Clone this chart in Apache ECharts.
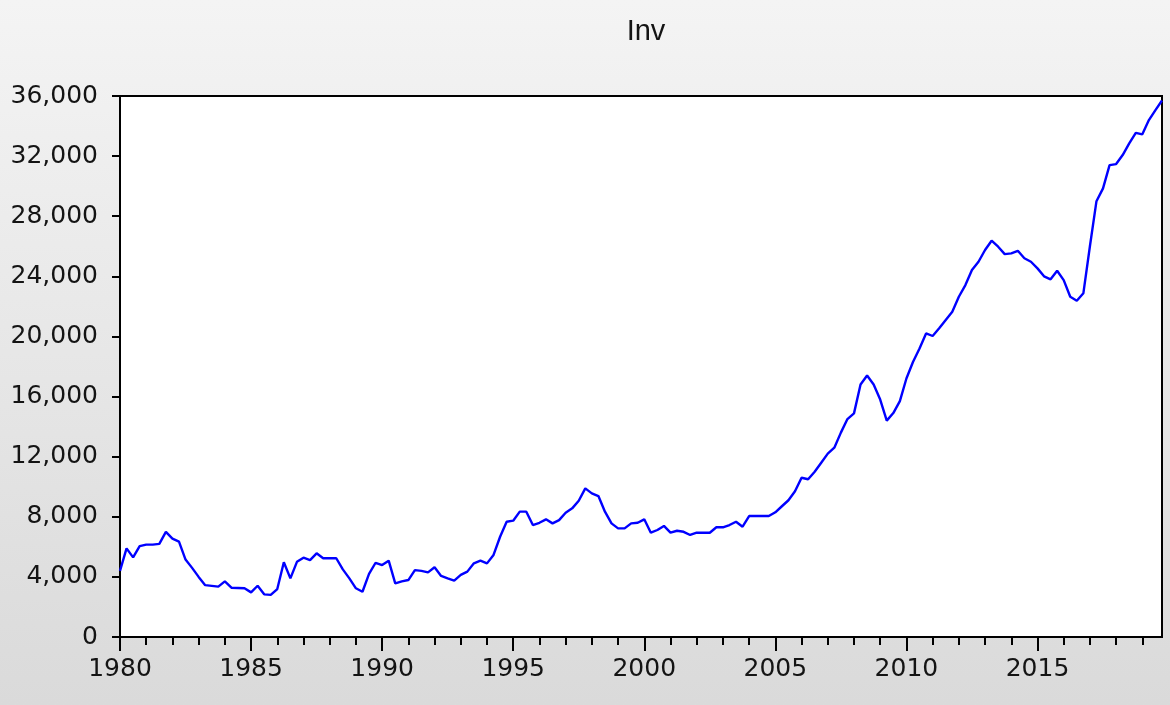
<!DOCTYPE html>
<html>
<head>
<meta charset="utf-8">
<script src="https://cdn.jsdelivr.net/npm/echarts@6/dist/echarts.min.js"></script>
<style>
  html, body { margin: 0; padding: 0; }
  #chart { width: 1170px; height: 705px; }
</style>
</head>
<body>
<div id="chart"></div>
<script>
// quarterly, 1980Q1 .. 2019Q4
var firstYear = 1980;
var lastYear = 2019;

var inv = [
    4400, 5900, 5300, 6050,      // 1980
    6150, 6150, 6200, 7000,      // 1981
    6550, 6350, 5150, 4600,      // 1982
    4000, 3450, 3400, 3350,      // 1983
    3700, 3280, 3260, 3240,      // 1984
    2970, 3410, 2840, 2800,      // 1985
    3190, 4970, 3900, 5000,      // 1986
    5280, 5120, 5570, 5240,      // 1987
    5240, 5240, 4500, 3900,      // 1988
    3240, 3010, 4200, 4940,      // 1989
    4790, 5080, 3570, 3700,      // 1990
    3790, 4450, 4400, 4300,      // 1991
    4640, 4060, 3900, 3750,      // 1992
    4130, 4350, 4900, 5080,      // 1993
    4900, 5460, 6670, 7670,      // 1994
    7740, 8340, 8340, 7450,      // 1995
    7600, 7830, 7560, 7780,      // 1996
    8270, 8560, 9070, 9890,      // 1997
    9560, 9380, 8340, 7560,      // 1998
    7230, 7230, 7560, 7600,      // 1999
    7830, 6940, 7120, 7390,      // 2000
    6940, 7070, 7000, 6790,      // 2001
    6940, 6940, 6940, 7300,      // 2002
    7300, 7450, 7670, 7340,      // 2003
    8050, 8050, 8050, 8050,      // 2004
    8300, 8700, 9100, 9700,      // 2005
    10600, 10500, 11000, 11600,  // 2006
    12200, 12600, 13600, 14500,  // 2007
    14880, 16800, 17400, 16800,  // 2008
    15800, 14400, 14900, 15700,  // 2009
    17200, 18300, 19200, 20200,  // 2010
    20030, 20540, 21100, 21640,  // 2011
    22640, 23420, 24420, 24970,  // 2012
    25750, 26370, 25970, 25480,  // 2013
    25530, 25700, 25200, 24970,  // 2014
    24530, 24000, 23800, 24370,  // 2015
    23750, 22640, 22380, 22870,  // 2016
    26000, 29000, 29850, 31400,  // 2017
    31470, 32070, 32850, 33550,  // 2018
    33450, 34400, 35060, 35700   // 2019
];

var quarters = [];
for (var y = firstYear; y <= lastYear; y++) {
    for (var q = 1; q <= 4; q++) {
        quarters.push(y + 'Q' + q);
    }
}

var myChart = echarts.init(document.getElementById('chart'));

var labelFont = {
    fontFamily: 'DejaVu Sans',
    fontSize: 25,
    color: '#141414'
};

var option = {
    animation: false,
    backgroundColor: {
        type: 'linear', x: 0, y: 0, x2: 0, y2: 1,
        colorStops: [
            {offset: 0, color: '#f4f4f4'},
            {offset: 1, color: '#dadada'}
        ]
    },
    title: {
        text: 'Inv',
        left: 641,
        top: 12,
        textAlign: 'center',
        textStyle: {
            fontFamily: 'Liberation Sans',
            fontWeight: 'normal',
            fontSize: 29,
            color: '#141414'
        }
    },
    grid: {
        left: 120,
        right: 8,
        top: 96,
        bottom: 68,
        show: true,
        backgroundColor: '#fff',
        borderColor: '#000',
        borderWidth: 2
    },
    xAxis: [
        {
            // yearly minor ticks
            type: 'category',
            position: 'bottom',
            data: quarters,
            boundaryGap: false,
            axisLine: {lineStyle: {color: '#000', width: 2}},
            axisTick: {
                length: 8,
                lineStyle: {color: '#000', width: 2},
                interval: function (idx) { return idx % 4 === 0; }
            },
            axisLabel: {show: false},
            splitLine: {show: false}
        },
        {
            // 5-year major ticks and labels
            type: 'category',
            position: 'bottom',
            data: quarters,
            boundaryGap: false,
            axisLine: {show: false},
            axisTick: {
                length: 14,
                lineStyle: {color: '#000', width: 2},
                interval: function (idx) { return idx % 20 === 0; }
            },
            axisLabel: {
                interval: function (idx) { return idx % 20 === 0; },
                margin: 20,
                formatter: function (v) { return v.slice(0, 4); },
                fontFamily: labelFont.fontFamily,
                fontSize: labelFont.fontSize,
                color: labelFont.color
            },
            splitLine: {show: false}
        }
    ],
    yAxis: {
        type: 'value',
        min: 0,
        max: 36000,
        interval: 4000,
        axisLine: {show: true, lineStyle: {color: '#000', width: 2}},
        axisTick: {show: true, length: 8, lineStyle: {color: '#000', width: 2}},
        axisLabel: {
            margin: 22,
            formatter: function (v) { return v.toLocaleString('en-US'); },
            fontFamily: labelFont.fontFamily,
            fontSize: labelFont.fontSize,
            color: labelFont.color
        },
        splitLine: {show: false}
    },
    series: [
        {
            name: 'Inv',
            type: 'line',
            xAxisIndex: 0,
            data: inv,
            showSymbol: false,
            symbol: 'none',
            lineStyle: {color: '#0000ff', width: 2.4}
        }
    ]
};

myChart.setOption(option);
</script>
</body>
</html>
